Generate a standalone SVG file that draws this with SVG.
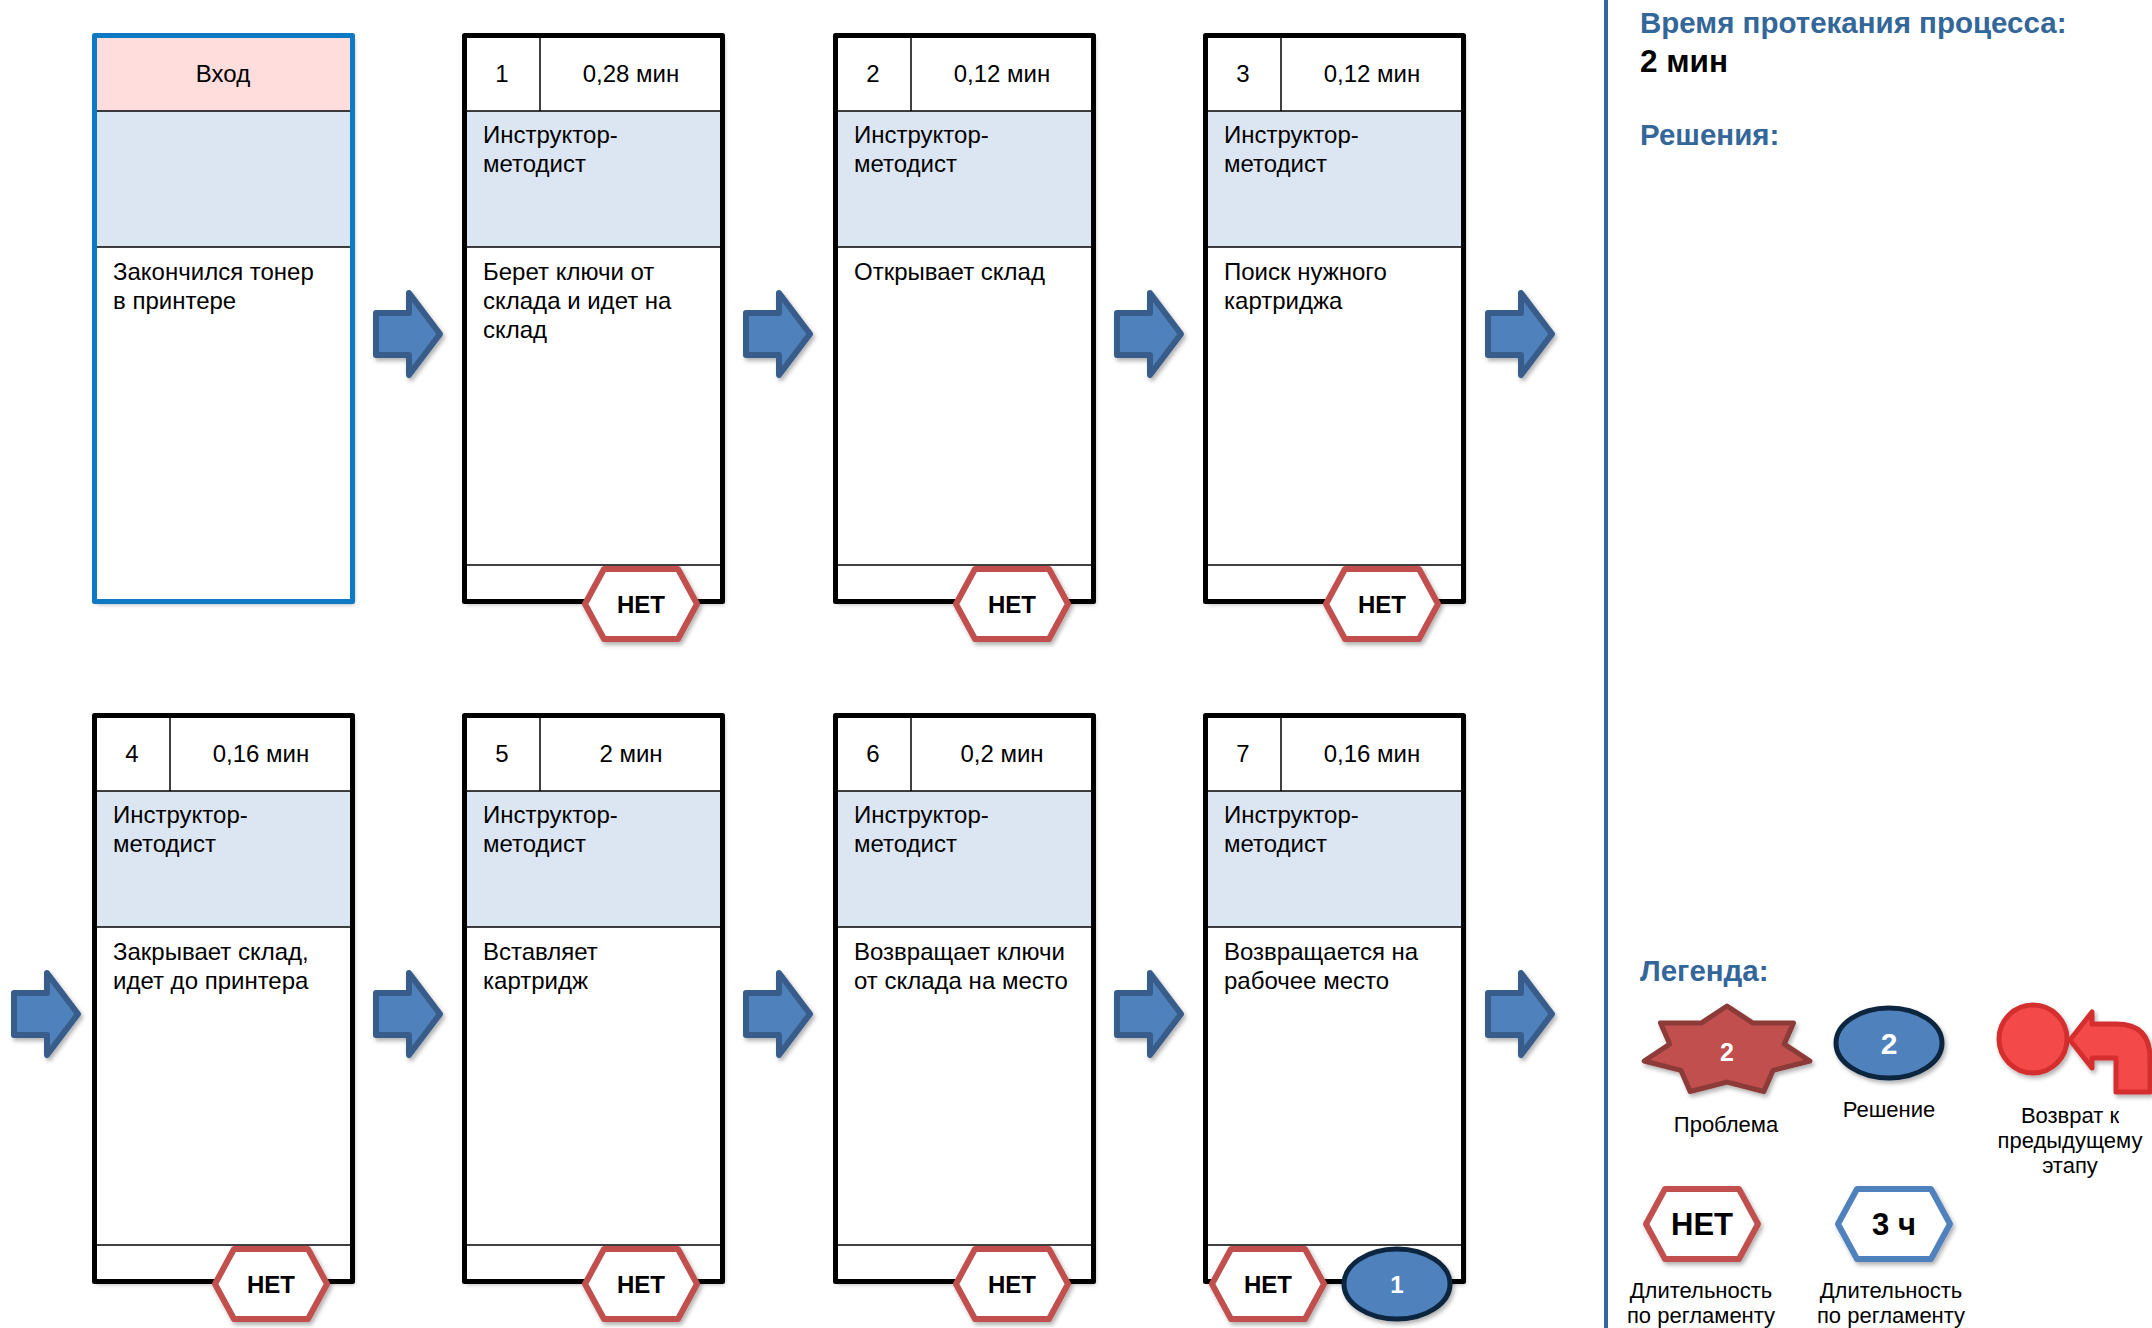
<svg xmlns="http://www.w3.org/2000/svg" xmlns:xlink="http://www.w3.org/1999/xlink" width="2152" height="1328" viewBox="0 0 2152 1328">
<style>
text{font-family:"Liberation Sans",Arial,sans-serif;fill:#000}
.t24{font-size:24px}
.c{text-anchor:middle}
.b{font-weight:bold}
.bg{fill:#fff;filter:url(#sh)}
.frame{fill:none;stroke:#000;stroke-width:5;stroke-linejoin:round}
.frameIn{fill:none;stroke:#0E7AC4;stroke-width:5;stroke-linejoin:round}
.band{fill:#DCE6F2}
.pink{fill:#FFDDDD}
.thin{stroke:#000;stroke-width:1.5}
.hexR{fill:#fff;stroke:#C0504D;stroke-width:6;stroke-linejoin:round;filter:url(#sh)}
.hexB{fill:#fff;stroke:#4F81BD;stroke-width:6;stroke-linejoin:round;filter:url(#sh)}
.sol{fill:#4F81BD;stroke:#10253F;stroke-width:5;filter:url(#sh)}
.arr{fill:#4F81BD;stroke:#385D8A;stroke-width:6;stroke-linejoin:round;filter:url(#sh)}
.hd{font-size:29.5px;font-weight:bold;fill:#336699}
.lg{font-size:22px}
.wt{fill:#fff;font-weight:bold}
</style>
<defs>
<filter id="sh" x="-20%" y="-20%" width="140%" height="140%">
<feDropShadow dx="2" dy="3" stdDeviation="2" flood-color="#000" flood-opacity="0.3"/>
</filter>
<path id="hex" d="M-56,0 L-37,-35 L37,-35 L56,0 L37,35 L-37,35 Z"/>
<path id="arrow" d="M3,-21 L36,-21 L36,-41 L67,0 L36,41 L36,21 L3,21 Z"/>
</defs>

<!-- Row 1 -->
<g id="entry">
<rect class="bg" x="94.5" y="35.5" width="258" height="566"/>
<rect class="pink" x="97" y="38" width="253" height="73"/>
<rect class="band" x="97" y="111" width="253" height="136"/>
<line class="thin" x1="97" y1="111" x2="350" y2="111"/>
<line class="thin" x1="97" y1="247" x2="350" y2="247"/>
<rect class="frameIn" x="94.5" y="35.5" width="258" height="566"/>
<text class="t24 c" x="223" y="82">Вход</text>
<text class="t24" x="113" y="280">Закончился тонер</text>
<text class="t24" x="113" y="309">в принтере</text>
</g>

<g id="step1">
<rect class="bg" x="464.5" y="35.5" width="258" height="566"/>
<rect class="band" x="467" y="111" width="253" height="136"/>
<line class="thin" x1="467" y1="111" x2="720" y2="111"/>
<line class="thin" x1="467" y1="247" x2="720" y2="247"/>
<line class="thin" x1="467" y1="565" x2="720" y2="565"/>
<line class="thin" x1="540" y1="38" x2="540" y2="111"/>
<rect class="frame" x="464.5" y="35.5" width="258" height="566"/>
<text class="t24 c" x="502" y="82">1</text>
<text class="t24 c" x="631" y="82">0,28 мин</text>
<text class="t24" x="483" y="143">Инструктор-</text>
<text class="t24" x="483" y="172">методист</text>
<text class="t24" x="483" y="280">Берет ключи от</text>
<text class="t24" x="483" y="309">склада и идет на</text>
<text class="t24" x="483" y="338">склад</text>
<g transform="translate(641,604)"><use xlink:href="#hex" class="hexR"/><text class="t24 c b" y="9">НЕТ</text></g>
</g>

<g id="step2">
<rect class="bg" x="835.5" y="35.5" width="258" height="566"/>
<rect class="band" x="838" y="111" width="253" height="136"/>
<line class="thin" x1="838" y1="111" x2="1091" y2="111"/>
<line class="thin" x1="838" y1="247" x2="1091" y2="247"/>
<line class="thin" x1="838" y1="565" x2="1091" y2="565"/>
<line class="thin" x1="911" y1="38" x2="911" y2="111"/>
<rect class="frame" x="835.5" y="35.5" width="258" height="566"/>
<text class="t24 c" x="873" y="82">2</text>
<text class="t24 c" x="1002" y="82">0,12 мин</text>
<text class="t24" x="854" y="143">Инструктор-</text>
<text class="t24" x="854" y="172">методист</text>
<text class="t24" x="854" y="280">Открывает склад</text>
<g transform="translate(1012,604)"><use xlink:href="#hex" class="hexR"/><text class="t24 c b" y="9">НЕТ</text></g>
</g>

<g id="step3">
<rect class="bg" x="1205.5" y="35.5" width="258" height="566"/>
<rect class="band" x="1208" y="111" width="253" height="136"/>
<line class="thin" x1="1208" y1="111" x2="1461" y2="111"/>
<line class="thin" x1="1208" y1="247" x2="1461" y2="247"/>
<line class="thin" x1="1208" y1="565" x2="1461" y2="565"/>
<line class="thin" x1="1281" y1="38" x2="1281" y2="111"/>
<rect class="frame" x="1205.5" y="35.5" width="258" height="566"/>
<text class="t24 c" x="1243" y="82">3</text>
<text class="t24 c" x="1372" y="82">0,12 мин</text>
<text class="t24" x="1224" y="143">Инструктор-</text>
<text class="t24" x="1224" y="172">методист</text>
<text class="t24" x="1224" y="280">Поиск нужного</text>
<text class="t24" x="1224" y="309">картриджа</text>
<g transform="translate(1382,604)"><use xlink:href="#hex" class="hexR"/><text class="t24 c b" y="9">НЕТ</text></g>
</g>

<!-- Row 2 -->
<g id="step4">
<rect class="bg" x="94.5" y="715.5" width="258" height="566"/>
<rect class="band" x="97" y="791" width="253" height="136"/>
<line class="thin" x1="97" y1="791" x2="350" y2="791"/>
<line class="thin" x1="97" y1="927" x2="350" y2="927"/>
<line class="thin" x1="97" y1="1245" x2="350" y2="1245"/>
<line class="thin" x1="170" y1="718" x2="170" y2="791"/>
<rect class="frame" x="94.5" y="715.5" width="258" height="566"/>
<text class="t24 c" x="132" y="762">4</text>
<text class="t24 c" x="261" y="762">0,16 мин</text>
<text class="t24" x="113" y="823">Инструктор-</text>
<text class="t24" x="113" y="852">методист</text>
<text class="t24" x="113" y="960">Закрывает склад,</text>
<text class="t24" x="113" y="989">идет до принтера</text>
<g transform="translate(271,1284)"><use xlink:href="#hex" class="hexR"/><text class="t24 c b" y="9">НЕТ</text></g>
</g>

<g id="step5">
<rect class="bg" x="464.5" y="715.5" width="258" height="566"/>
<rect class="band" x="467" y="791" width="253" height="136"/>
<line class="thin" x1="467" y1="791" x2="720" y2="791"/>
<line class="thin" x1="467" y1="927" x2="720" y2="927"/>
<line class="thin" x1="467" y1="1245" x2="720" y2="1245"/>
<line class="thin" x1="540" y1="718" x2="540" y2="791"/>
<rect class="frame" x="464.5" y="715.5" width="258" height="566"/>
<text class="t24 c" x="502" y="762">5</text>
<text class="t24 c" x="631" y="762">2 мин</text>
<text class="t24" x="483" y="823">Инструктор-</text>
<text class="t24" x="483" y="852">методист</text>
<text class="t24" x="483" y="960">Вставляет</text>
<text class="t24" x="483" y="989">картридж</text>
<g transform="translate(641,1284)"><use xlink:href="#hex" class="hexR"/><text class="t24 c b" y="9">НЕТ</text></g>
</g>

<g id="step6">
<rect class="bg" x="835.5" y="715.5" width="258" height="566"/>
<rect class="band" x="838" y="791" width="253" height="136"/>
<line class="thin" x1="838" y1="791" x2="1091" y2="791"/>
<line class="thin" x1="838" y1="927" x2="1091" y2="927"/>
<line class="thin" x1="838" y1="1245" x2="1091" y2="1245"/>
<line class="thin" x1="911" y1="718" x2="911" y2="791"/>
<rect class="frame" x="835.5" y="715.5" width="258" height="566"/>
<text class="t24 c" x="873" y="762">6</text>
<text class="t24 c" x="1002" y="762">0,2 мин</text>
<text class="t24" x="854" y="823">Инструктор-</text>
<text class="t24" x="854" y="852">методист</text>
<text class="t24" x="854" y="960">Возвращает ключи</text>
<text class="t24" x="854" y="989">от склада на место</text>
<g transform="translate(1012,1284)"><use xlink:href="#hex" class="hexR"/><text class="t24 c b" y="9">НЕТ</text></g>
</g>

<g id="step7">
<rect class="bg" x="1205.5" y="715.5" width="258" height="566"/>
<rect class="band" x="1208" y="791" width="253" height="136"/>
<line class="thin" x1="1208" y1="791" x2="1461" y2="791"/>
<line class="thin" x1="1208" y1="927" x2="1461" y2="927"/>
<line class="thin" x1="1208" y1="1245" x2="1461" y2="1245"/>
<line class="thin" x1="1281" y1="718" x2="1281" y2="791"/>
<rect class="frame" x="1205.5" y="715.5" width="258" height="566"/>
<text class="t24 c" x="1243" y="762">7</text>
<text class="t24 c" x="1372" y="762">0,16 мин</text>
<text class="t24" x="1224" y="823">Инструктор-</text>
<text class="t24" x="1224" y="852">методист</text>
<text class="t24" x="1224" y="960">Возвращается на</text>
<text class="t24" x="1224" y="989">рабочее место</text>
<g transform="translate(1268,1284)"><use xlink:href="#hex" class="hexR"/><text class="t24 c b" y="9">НЕТ</text></g>
<ellipse class="sol" cx="1397" cy="1284" rx="53" ry="35"/>
<text class="t24 c wt" x="1397" y="1293">1</text>
</g>

<!-- Connectors -->
<g id="connectors">
<use xlink:href="#arrow" class="arr" transform="translate(373,334)"/>
<use xlink:href="#arrow" class="arr" transform="translate(743,334)"/>
<use xlink:href="#arrow" class="arr" transform="translate(1114,334)"/>
<use xlink:href="#arrow" class="arr" transform="translate(1485,334)"/>
<use xlink:href="#arrow" class="arr" transform="translate(11,1014)"/>
<use xlink:href="#arrow" class="arr" transform="translate(373,1014)"/>
<use xlink:href="#arrow" class="arr" transform="translate(743,1014)"/>
<use xlink:href="#arrow" class="arr" transform="translate(1114,1014)"/>
<use xlink:href="#arrow" class="arr" transform="translate(1485,1014)"/>
</g>

<!-- Side panel -->
<g id="panel">
<line x1="1606" y1="0" x2="1606" y2="1328" stroke="#336699" stroke-width="4"/>
<text class="hd" x="1640" y="33">Время протекания процесса:</text>
<text x="1640" y="72" font-size="31.5" font-weight="bold">2 мин</text>
<text class="hd" x="1640" y="145">Решения:</text>
<text class="hd" x="1640" y="981">Легенда:</text>
</g>

<g id="legend-problem">
<path d="M1727,1006 L1752.5,1022.9 L1793.5,1022.9 L1784.3,1044.1 L1809.9,1061 L1773,1070.4 L1763.9,1091.5 L1727,1082.1 L1690.1,1091.5 L1681,1070.4 L1644.1,1061 L1669.7,1044.1 L1660.5,1022.9 L1701.5,1022.9 Z" fill="#C0504D" stroke="#8C3A38" stroke-width="5" stroke-linejoin="round" filter="url(#sh)"/>
<text class="c wt" x="1727" y="1061" font-size="25">2</text>
<text class="lg c" x="1726" y="1132">Проблема</text>
</g>

<g id="legend-solution">
<ellipse class="sol" cx="1889" cy="1043" rx="53" ry="35"/>
<text class="c wt" x="1889" y="1054" font-size="30">2</text>
<text class="lg c" x="1889" y="1117">Решение</text>
</g>

<g id="legend-return">
<circle cx="2033" cy="1039" r="34" fill="#F44848" stroke="#D42F2F" stroke-width="5" filter="url(#sh)"/>
<path d="M2070,1040 L2092,1012 L2092,1024 L2116,1024 Q2150,1024 2150,1058 L2150,1092 L2116,1092 L2116,1058 L2092,1058 L2092,1068 Z" fill="#F44848" stroke="#D42F2F" stroke-width="5" stroke-linejoin="round" filter="url(#sh)"/>
<text class="lg c" x="2070" y="1123">Возврат к</text>
<text class="lg c" x="2070" y="1148">предыдущему</text>
<text class="lg c" x="2070" y="1173">этапу</text>
</g>

<g id="legend-net">
<g transform="translate(1702,1224)"><use xlink:href="#hex" class="hexR"/><text class="c b" y="11" font-size="31">НЕТ</text></g>
<text class="lg c" x="1701" y="1298">Длительность</text>
<text class="lg c" x="1701" y="1323">по регламенту</text>
</g>

<g id="legend-time">
<g transform="translate(1894,1224)"><use xlink:href="#hex" class="hexB"/><text class="c b" y="11" font-size="31">3 ч</text></g>
<text class="lg c" x="1891" y="1298">Длительность</text>
<text class="lg c" x="1891" y="1323">по регламенту</text>
</g>
</svg>
